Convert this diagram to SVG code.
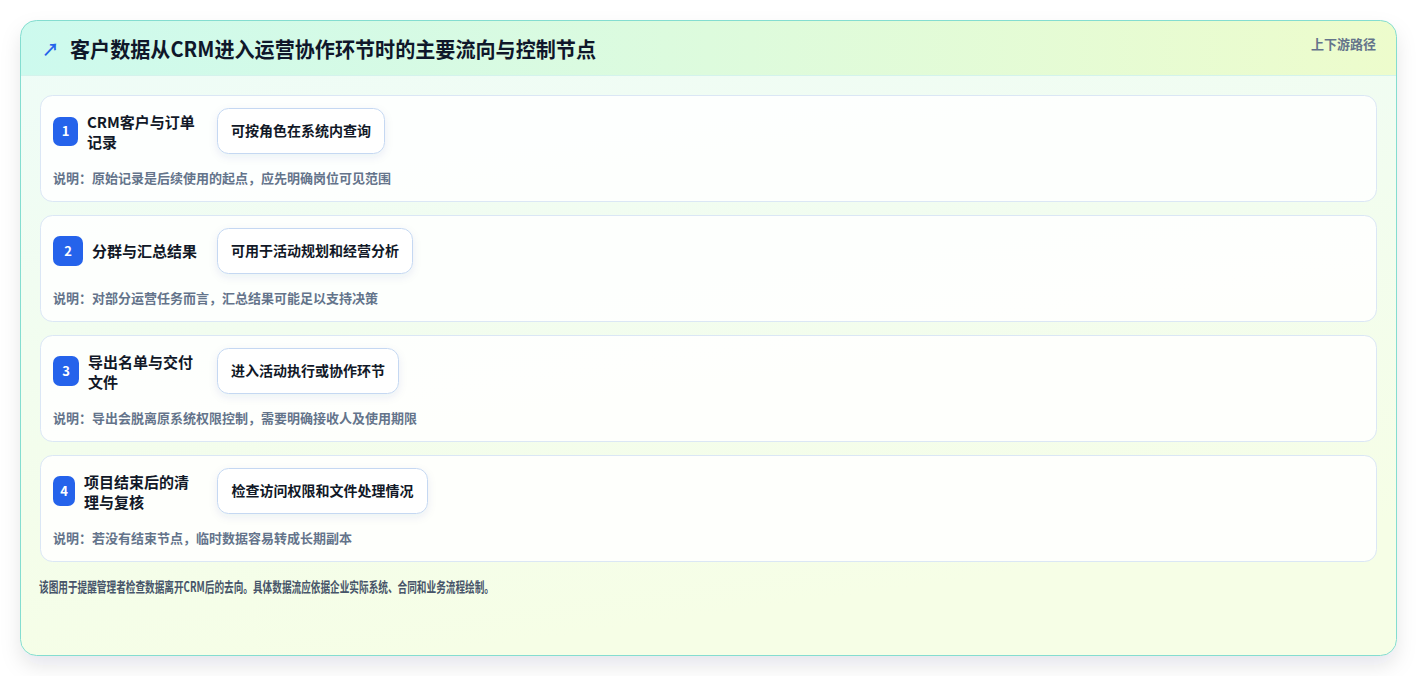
<svg xmlns="http://www.w3.org/2000/svg" width="1417" height="676" viewBox="0 0 1417 676">
<defs>
<linearGradient id="bodyG" x1="0" y1="0" x2="0.3" y2="1">
<stop offset="0" stop-color="#eefcf8"/>
<stop offset="1" stop-color="#f6fee6"/>
</linearGradient>
<linearGradient id="headG" x1="0" y1="0" x2="1" y2="0">
<stop offset="0" stop-color="#cdfaee"/>
<stop offset="1" stop-color="#edfccc"/>
</linearGradient>
<clipPath id="cardClip"><rect x="20.5" y="20.5" width="1376" height="635" rx="16"/></clipPath>
<filter id="cardShadow" x="-5%" y="-5%" width="110%" height="120%">
<feDropShadow dx="0" dy="10" stdDeviation="10" flood-color="#0f172a" flood-opacity="0.10"/>
</filter>
<filter id="pillShadow" x="-10%" y="-20%" width="120%" height="150%">
<feDropShadow dx="0" dy="3" stdDeviation="4" flood-color="#1e3a8a" flood-opacity="0.08"/>
</filter>
</defs>
<style>
text{font-family:"Noto Sans CJK SC","Noto Sans",sans-serif;}
.row{fill:#ffffff;fill-opacity:0.85;stroke:#dbe7f5;stroke-width:1;}
.badge{fill:#2563eb;}
.num{fill:#ffffff;font-size:13px;font-weight:700;text-anchor:middle;}
.ttl{fill:#111827;font-size:15px;font-weight:700;}
.pill{fill:#ffffff;stroke:#c5d8f2;stroke-width:1;}
.ptx{fill:#111827;font-size:14px;font-weight:700;text-anchor:middle;}
.desc{fill:#64748b;font-size:13px;font-weight:700;}
</style>
<rect x="0" y="0" width="1417" height="676" fill="#ffffff"/>
<g id="card">
<rect x="20.5" y="20.5" width="1376" height="635" rx="16" fill="url(#bodyG)" filter="url(#cardShadow)"/>
<g clip-path="url(#cardClip)">
<rect x="20" y="20" width="1377" height="55" fill="url(#headG)"/>
<line x1="20" y1="75.5" x2="1397" y2="75.5" stroke="#d4f3ec" stroke-width="1"/>
</g>
<rect x="20.5" y="20.5" width="1376" height="635" rx="16" fill="none" stroke="#84ddd0" stroke-width="1"/>
</g>
<g id="header">
<text x="42" y="56" font-family="DejaVu Sans,sans-serif" font-size="17" font-weight="700" fill="#2563eb">↗</text>
<text x="70" y="57" font-size="21" font-weight="700" fill="#0f172a" textLength="526" lengthAdjust="spacingAndGlyphs">客户数据从CRM进入运营协作环节时的主要流向与控制节点</text>
<text x="1376" y="49" font-size="13" font-weight="600" fill="#64748b" text-anchor="end">上下游路径</text>
</g>
<g id="step1">
<rect class="row" x="40.5" y="95.5" width="1336" height="106" rx="12"/>
<rect class="badge" x="53" y="117" width="25" height="29" rx="7"/>
<text class="num" x="65.5" y="136">1</text>
<text class="ttl" x="87" y="128">CRM客户与订单</text>
<text class="ttl" x="87" y="148">记录</text>
<rect class="pill" x="217.5" y="108.5" width="167" height="45" rx="11" filter="url(#pillShadow)"/>
<text class="ptx" x="301" y="135.5">可按角色在系统内查询</text>
<text class="desc" x="53" y="182.5">说明：原始记录是后续使用的起点，应先明确岗位可见范围</text>
</g>
<g id="step2">
<rect class="row" x="40.5" y="215.5" width="1336" height="106" rx="12"/>
<rect class="badge" x="53" y="236" width="30" height="30" rx="7"/>
<text class="num" x="68" y="255.5">2</text>
<text class="ttl" x="92" y="257">分群与汇总结果</text>
<rect class="pill" x="217.5" y="228.5" width="195" height="45" rx="11" filter="url(#pillShadow)"/>
<text class="ptx" x="315" y="255.5">可用于活动规划和经营分析</text>
<text class="desc" x="53" y="302.5">说明：对部分运营任务而言，汇总结果可能足以支持决策</text>
</g>
<g id="step3">
<rect class="row" x="40.5" y="335.5" width="1336" height="106" rx="12"/>
<rect class="badge" x="53" y="356" width="26" height="30" rx="7"/>
<text class="num" x="66" y="375.5">3</text>
<text class="ttl" x="88" y="367.5">导出名单与交付</text>
<text class="ttl" x="88" y="387.5">文件</text>
<rect class="pill" x="217.5" y="348.5" width="181" height="45" rx="11" filter="url(#pillShadow)"/>
<text class="ptx" x="308" y="375.5">进入活动执行或协作环节</text>
<text class="desc" x="53" y="422.5">说明：导出会脱离原系统权限控制，需要明确接收人及使用期限</text>
</g>
<g id="step4">
<rect class="row" x="40.5" y="455.5" width="1336" height="106" rx="12"/>
<rect class="badge" x="53" y="476" width="22" height="30" rx="7"/>
<text class="num" x="64" y="495.5">4</text>
<text class="ttl" x="84" y="487.5">项目结束后的清</text>
<text class="ttl" x="84" y="507.5">理与复核</text>
<rect class="pill" x="217.5" y="468.5" width="210" height="45" rx="11" filter="url(#pillShadow)"/>
<text class="ptx" x="322.5" y="495.5">检查访问权限和文件处理情况</text>
<text class="desc" x="53" y="542.5">说明：若没有结束节点，临时数据容易转成长期副本</text>
</g>
<g id="connectors"/>
<g id="footer">
<text x="39" y="591.5" font-size="14" font-weight="700" fill="#475569" textLength="455" lengthAdjust="spacingAndGlyphs">该图用于提醒管理者检查数据离开CRM后的去向。具体数据流应依据企业实际系统、合同和业务流程绘制。</text>
</g>
</svg>
